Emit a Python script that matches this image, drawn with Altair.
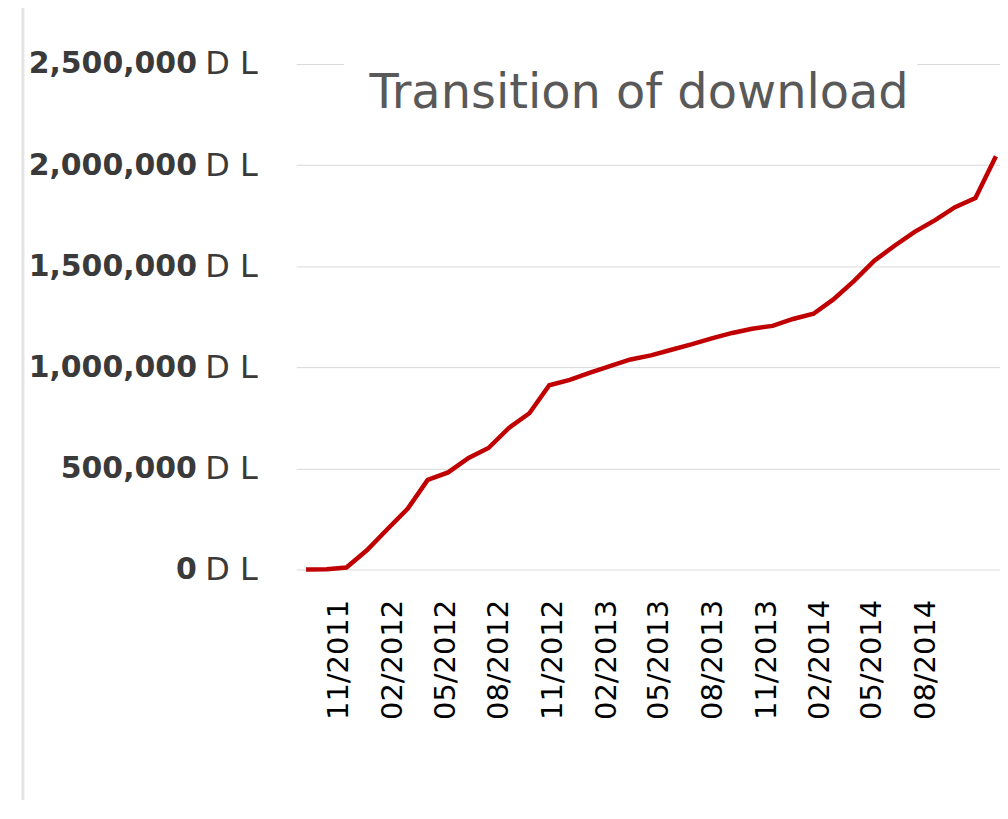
import altair as alt
import pandas as pd

# Data
dates = [
    "2011-09-06", "2011-10-11", "2011-11-14", "2011-12-19", "2012-01-23",
    "2012-02-27", "2012-04-01", "2012-05-06", "2012-06-10", "2012-07-14",
    "2012-08-18", "2012-09-22", "2012-10-26", "2012-11-30", "2013-01-04",
    "2013-02-08", "2013-03-14", "2013-04-18", "2013-05-23", "2013-06-26",
    "2013-07-31", "2013-09-04", "2013-10-08", "2013-11-12", "2013-12-17",
    "2014-01-21", "2014-02-24", "2014-03-31", "2014-05-05", "2014-06-08",
    "2014-07-13", "2014-08-17", "2014-09-20", "2014-10-25", "2014-11-29",
]
downloads = [
    0, 1000, 10000, 95000, 199000,
    301000, 443000, 480000, 552000, 601000,
    700000, 773000, 911000, 938000, 974000,
    1007000, 1039000, 1059000, 1087000, 1113000,
    1143000, 1170000, 1191000, 1205000, 1239000,
    1265000, 1336000, 1426000, 1527000, 1600000,
    1670000, 1728000, 1792000, 1837000, 2044000,
]
tick_months = [(2011, 11), (2012, 2), (2012, 5), (2012, 8), (2012, 11), (2013, 2),
               (2013, 5), (2013, 8), (2013, 11), (2014, 2), (2014, 5), (2014, 8)]
y_ticks = [0, 500000, 1000000, 1500000, 2000000, 2500000]
title_text = "Transition of download"
unit_text = "D L"

df = pd.DataFrame({"date": dates, "downloads": downloads})

W, H = 706, 507

x_enc = alt.X(
    "date:T",
    scale=alt.Scale(
        type="utc",
        domain=[alt.DateTime(year=2011, month=8, date=20, utc=True),
                alt.DateTime(year=2014, month=12, date=6, utc=True)],
    ),
    axis=alt.Axis(
        values=[alt.DateTime(year=y, month=m, date=1, utc=True) for y, m in tick_months],
        labelExpr="utcFormat(datum.value, '%m/%Y')",
        labelAngle=270, labelFontSize=29, labelColor="#000000", labelFont="DejaVu Sans",
        labelPadding=30, ticks=False, domain=False, grid=False, title=None,
        labelOverlap=False,
    ),
)

y_scale = alt.Scale(domain=[0, 2500000], nice=False)

line = alt.Chart(df).mark_line(color="#C00000", strokeWidth=4.5).encode(
    x=x_enc,
    y=alt.Y(
        "downloads:Q", scale=y_scale,
        axis=alt.Axis(
            values=y_ticks, labelExpr="format(datum.value, ',')",
            labelFont="DejaVu Sans", labelFontWeight="bold", labelFontSize=30,
            labelColor="#3a3a3a", labelPadding=100, ticks=False, domain=False,
            grid=True, gridColor="#d9d9d9", gridWidth=1, title=None, orient="left",
        ),
    ),
)

unit_axis = alt.Chart(df).mark_line(opacity=0).encode(
    x=alt.X("date:T"),
    y=alt.Y(
        "downloads:Q", scale=y_scale,
        axis=alt.Axis(
            values=y_ticks, labelExpr=f"'{unit_text}'",
            labelFont="DejaVu Sans", labelFontWeight="normal", labelFontSize=32,
            labelColor="#3a3a3a", labelPadding=39, ticks=False, domain=False,
            grid=False, title=None, orient="left",
        ),
    ),
)

deco = pd.DataFrame({"t": [title_text]})

title_bg = alt.Chart(deco).mark_rect(color="white").encode(
    x=alt.value(48), x2=alt.value(623), y=alt.value(-3), y2=alt.value(3)
)

title = alt.Chart(deco).mark_text(
    fontSize=48, color="#595959", font="DejaVu Sans", align="center", baseline="alphabetic"
).encode(text="t:N", x=alt.value(344), y=alt.value(44))

border = alt.Chart(deco).mark_rule(color="#e4e4e4", strokeWidth=3).encode(
    x=alt.value(-274), y=alt.value(-58), y2=alt.value(760)
)

chart = alt.layer(border, title_bg, line, unit_axis, title).resolve_axis(
    y="independent"
).properties(
    width=W, height=H,
    autosize=alt.AutoSizeParams(type="none"),
    padding={"left": 289, "top": 55, "right": 0, "bottom": 230},
).configure_view(stroke=None)

chart.save("out.html", embed_options={"renderer": "svg", "actions": False})
